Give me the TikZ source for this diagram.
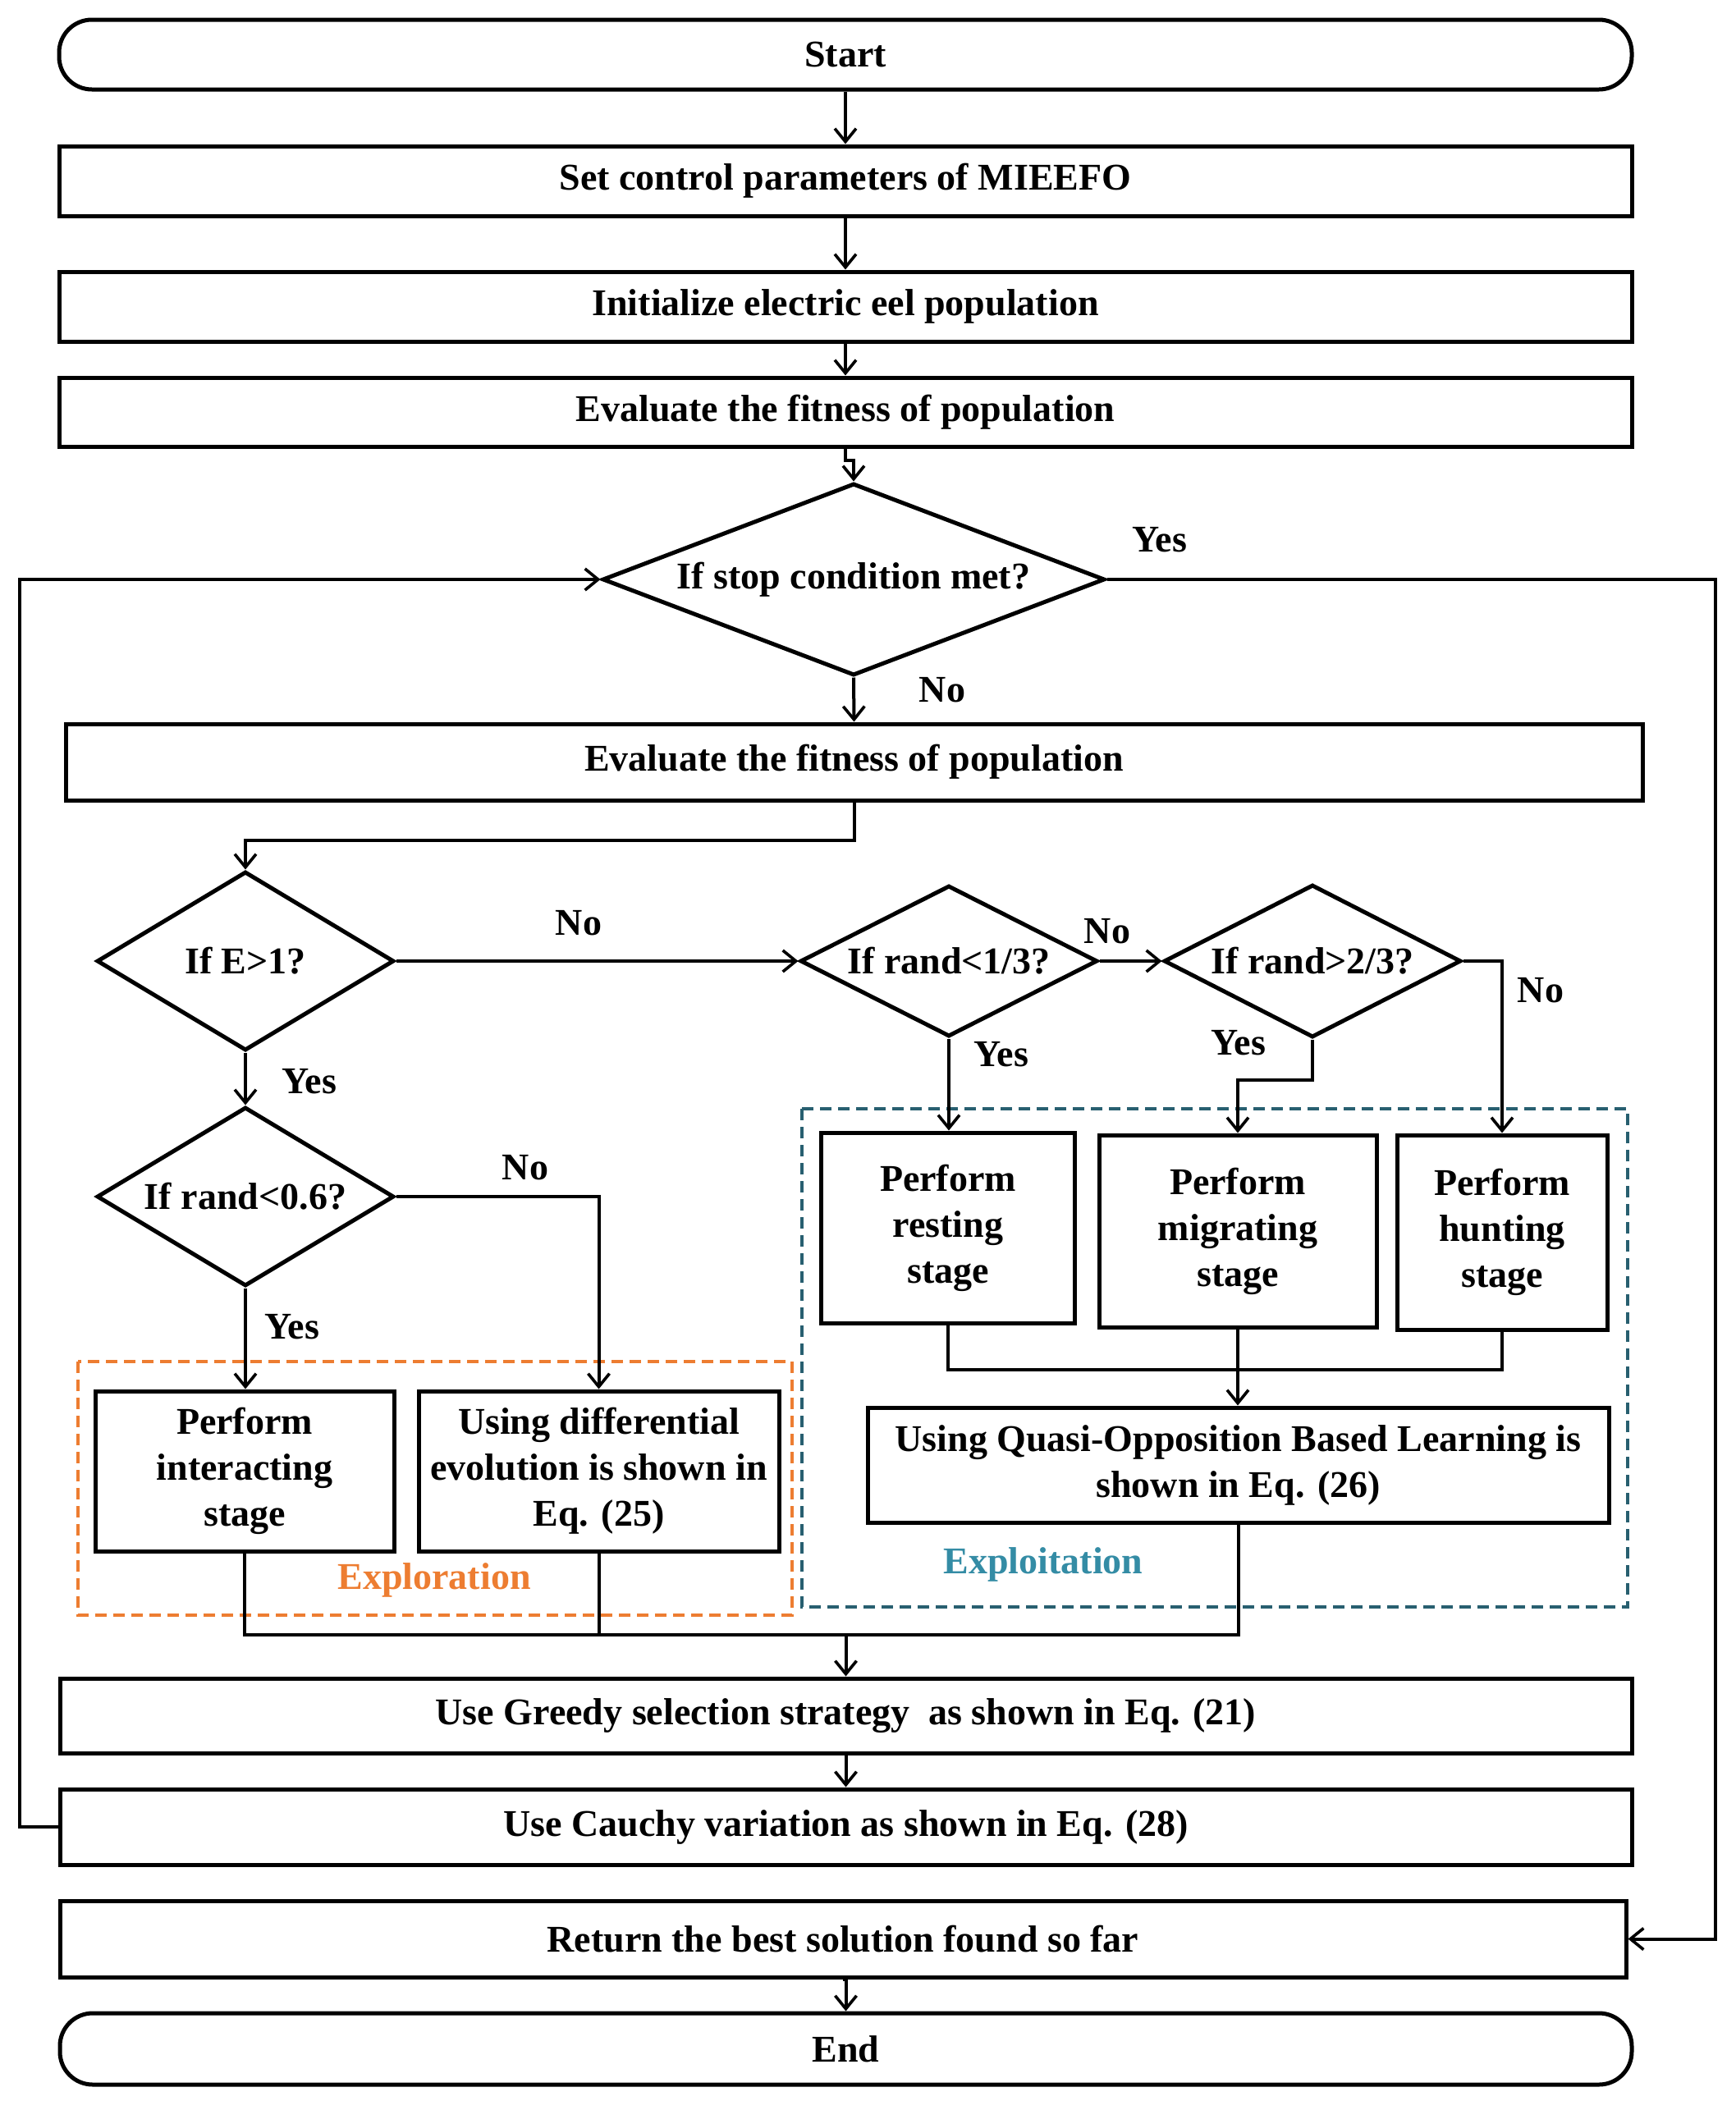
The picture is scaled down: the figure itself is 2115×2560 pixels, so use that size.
\documentclass[tikz,border=0pt]{standalone}
\usepackage{fontspec}
\setmainfont{Liberation Serif}
\usetikzlibrary{shapes.geometric,arrows.meta}
\definecolor{exporange}{RGB}{237,125,49}
\definecolor{expteal}{RGB}{40,95,112}
\definecolor{exptealtxt}{RGB}{52,140,165}
\begin{document}
\begin{tikzpicture}[x=1pt,y=-1pt,
  font=\fontsize{46}{56}\selectfont\bfseries,
  box/.style={draw,line width=5pt,rectangle,inner sep=0pt,align=center},
  term/.style={box,rounded corners=40pt},
  dec/.style={draw,line width=5pt,diamond,inner sep=0pt,align=center},
  conn/.style={line width=4pt},
  arr/.style={conn,-{Straight Barb[length=16pt,width=26pt,line width=3.6pt]}},
  lbl/.style={inner sep=0pt}
]
\useasboundingbox (0,0) rectangle (2115,2560);
% terminals and boxes
\node[term,minimum width=1916pt,minimum height=85pt] (start) at (1030,66.5) {Start};
\node[box,minimum width=1916pt,minimum height=85pt] (set) at (1030,220.5) {Set control parameters of MIEEFO};
\node[box,minimum width=1916pt,minimum height=85pt] (init) at (1030,373.5) {Initialize electric eel population};
\node[box,minimum width=1916pt,minimum height=84pt] (evalA) at (1030,502) {Evaluate the fitness of population};
\node[dec,aspect=2.615,minimum width=612pt,minimum height=234pt] (stop) at (1040,706) {If stop condition met?};
\node[box,minimum width=1921pt,minimum height=93pt] (evalB) at (1040.5,928.5) {Evaluate the fitness of population};
\node[dec,aspect=1.66,minimum width=362pt,minimum height=218pt] (e1) at (299,1171) {If E>1?};
\node[dec,aspect=1.97,minimum width=362pt,minimum height=184pt] (r13) at (1156,1171) {If rand<1/3?};
\node[dec,aspect=1.95,minimum width=362pt,minimum height=186pt] (r23) at (1599,1171) {If rand>2/3?};
\node[dec,aspect=1.66,minimum width=362pt,minimum height=218pt] (r06) at (299,1458) {If rand<0.6?};
% group frames
\draw[exporange,line width=3.5pt,dash pattern=on 14pt off 8pt] (95,1659) rectangle (965,1968);
\draw[expteal,line width=3.5pt,dash pattern=on 14pt off 8pt] (977,1351) rectangle (1983,1958);
\node[box,minimum width=364pt,minimum height=195pt] (inter) at (298,1792.5) {Perform\\interacting\\stage};
\node[box,minimum width=439pt,minimum height=195pt] (diff) at (729.5,1792.5) {Using differential\\evolution is shown in\\Eq. (25)};
\node[box,minimum width=309pt,minimum height=232pt] (rest) at (1155,1496) {Perform\\resting\\stage};
\node[box,minimum width=338pt,minimum height=234pt] (migr) at (1508,1500) {Perform\\migrating\\stage};
\node[box,minimum width=256pt,minimum height=237pt] (hunt) at (1830,1501.5) {Perform\\hunting\\stage};
\node[box,minimum width=903pt,minimum height=140pt] (quasi) at (1508.5,1785) {Using Quasi-Opposition Based Learning is\\shown in Eq. (26)};
\node[lbl,text=exporange] (explor) at (529,1925) {Exploration};
\node[lbl,text=exptealtxt] (exploi) at (1271,1906) {Exploitation};
\node[box,minimum width=1915pt,minimum height=91pt] (greedy) at (1030.5,2090.5) {Use Greedy selection strategy\ \ as shown in Eq. (21)};
\node[box,minimum width=1915pt,minimum height=92pt] (cauchy) at (1030.5,2226) {Use Cauchy variation as shown in Eq. (28)};
\node[box,minimum width=1908pt,minimum height=93pt] (ret) at (1027,2362.5) {Return the best solution found so far};
\node[term,minimum width=1915pt,minimum height=87pt] (end) at (1030.5,2496.5) {End};
% labels
\node[lbl] (yStop) at (1413,658) {Yes};
\node[lbl] (nStop) at (1148,841) {No};
\node[lbl] (nE1) at (705,1125) {No};
\node[lbl] (n13) at (1349,1135) {No};
\node[lbl] (n23) at (1877,1207) {No};
\node[lbl] (y13) at (1220,1285) {Yes};
\node[lbl] (y23) at (1509,1271) {Yes};
\node[lbl] (yE1) at (377,1318) {Yes};
\node[lbl] (n06) at (640,1423) {No};
\node[lbl] (y06) at (356,1617) {Yes};
% coordinates
\coordinate (lx) at (24,0);
\coordinate (rx) at (2090,0);
\coordinate (my) at (0,1992);
% connectors
\draw[arr] (start.south) -- (set.north);
\draw[arr] (set.south) -- (init.north);
\draw[arr] (init.south) -- (evalA.north);
\draw[arr] (evalA.south) -- ++(0,14) -| (stop.north);
\draw[arr] (stop.south) -- (evalB.north);
\draw[arr] (cauchy.west) -- (cauchy.west -| lx) |- (stop.west);
\draw[arr] (stop.east) -- (stop.east -| rx) |- (ret.east);
\draw[arr] (evalB.south) -- ++(0,46) -| (e1.north);
\draw[arr] (e1.east) -- (r13.west);
\draw[arr] (r13.east) -- (r23.west);
\draw[arr] (r13.south) -- (r13.south |- rest.north);
\draw[arr] (r23.south) -- ++(0,49) -| (migr.north);
\draw[arr] (r23.east) -| (hunt.north);
\draw[arr] (e1.south) -- (r06.north);
\draw[arr] (r06.south) -- (r06.south |- inter.north);
\draw[arr] (r06.east) -| (diff.north);
\draw[conn] (rest.south) -- ++(0,54) -| (hunt.south);
\draw[arr] (migr.south) -- (migr.south |- quasi.north);
\draw[conn] (inter.south) -- (inter.south |- my) -| (quasi.south);
\draw[conn] (diff.south) -- (diff.south |- my);
\draw[arr] (greedy.north |- my) -- (greedy.north);
\draw[arr] (greedy.south) -- (cauchy.north);
\draw[arr] (ret.south) -- (ret.south -| end.north) -- (end.north);
\end{tikzpicture}
\end{document}
